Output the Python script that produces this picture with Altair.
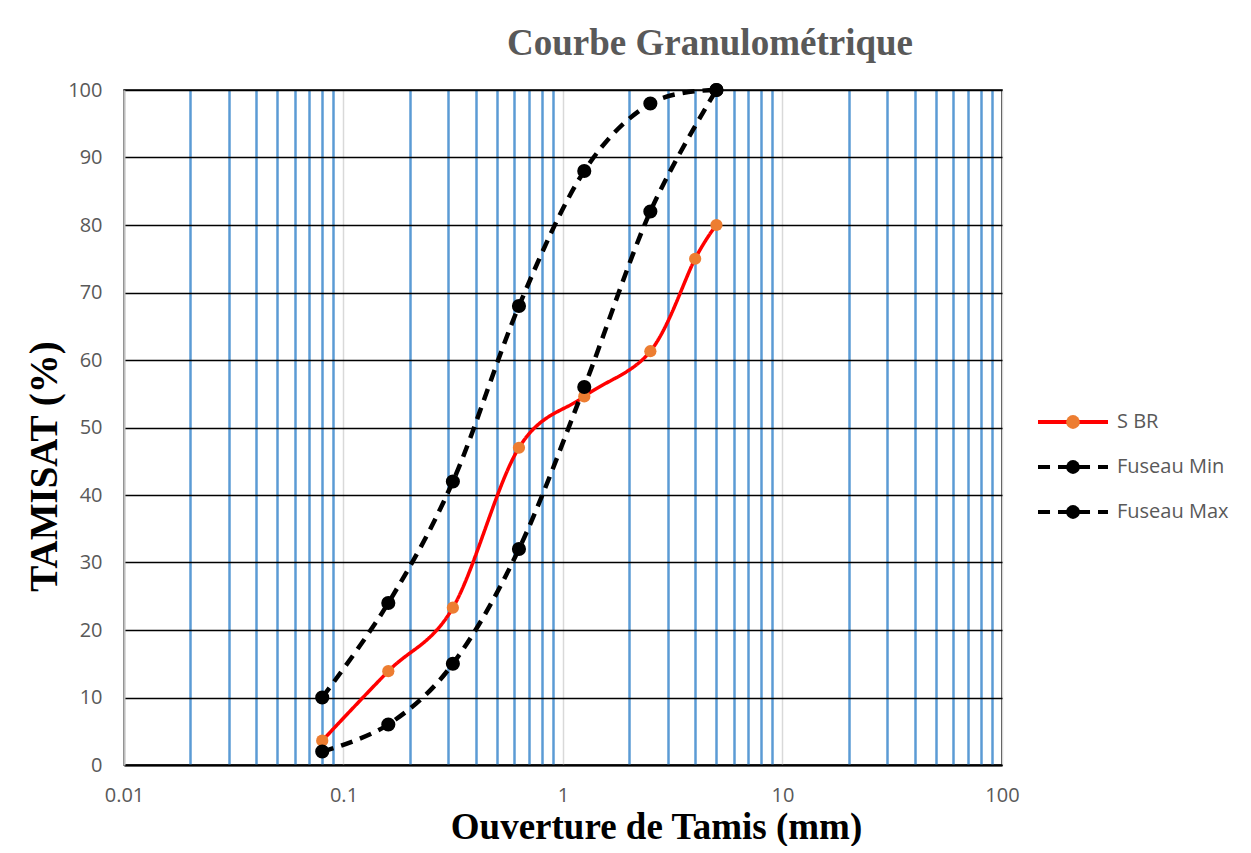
import altair as alt
import pandas as pd

# ---- data ----
series_names = ["S BR", "Fuseau Min", "Fuseau Max"]
point_keys = ["S BR ", "Fuseau Min ", "Fuseau Max "]

sieve_sbr = [0.08, 0.16, 0.315, 0.63, 1.25, 2.5, 4, 5]
pass_sbr = [3.6, 13.9, 23.3, 47.0, 54.6, 61.3, 75.0, 80.0]

sieve_fuseau = [0.08, 0.16, 0.315, 0.63, 1.25, 2.5, 5]
pass_min = [2, 6, 15, 32, 56, 82, 100]
pass_max = [10, 24, 42, 68, 88, 98, 100]

x_major = [0.01, 0.1, 1, 10, 100]
x_ticks = [0.01, 0.02, 0.03, 0.04, 0.05, 0.06, 0.07, 0.08, 0.09,
           0.1, 0.2, 0.3, 0.4, 0.5, 0.6, 0.7, 0.8, 0.9,
           1, 2, 3, 4, 5, 6, 7, 8, 9,
           10, 20, 30, 40, 50, 60, 70, 80, 90, 100]
y_ticks = [0, 10, 20, 30, 40, 50, 60, 70, 80, 90, 100]

line_colors = ["#FF0000", "#000000", "#000000"]
line_dashes = [[1, 0], [12, 8], [12, 8]]
point_colors = ["#ED7D31", "#000000", "#000000"]

rows = []
for name, key, xs, ys in [
    (series_names[0], point_keys[0], sieve_sbr, pass_sbr),
    (series_names[1], point_keys[1], sieve_fuseau, pass_min),
    (series_names[2], point_keys[2], sieve_fuseau, pass_max),
]:
    for xv, yv in zip(xs, ys):
        rows.append({"series": name, "key": key, "sieve": xv, "pass": yv})
df = pd.DataFrame(rows)

major_js = "[" + ",".join(str(v) for v in x_major) + "]"
is_major = f"indexof({major_js}, datum.value) >= 0"
is_sbr = "datum.series == 'S BR'"

x_axis = alt.Axis(
    values=x_ticks,
    format=".2~f",
    labelExpr=f"{is_major} ? datum.label : ''",
    labelOverlap=False,
    labelFlush=False,
    ticks=False,
    grid=True,
    gridColor={"condition": {"test": is_major, "value": "#D9D9D9"}, "value": "#5B9BD5"},
    gridWidth={"condition": {"test": is_major, "value": 1.5}, "value": 2.5},
    domainColor="black",
    domainWidth=2,
    labelFont="Open Sans",
    labelFontSize=20,
    labelColor="#595959",
    labelPadding=20,
    title="Ouverture de Tamis (mm)",
    titleFont="Liberation Serif",
    titleFontSize=37,
    titleFontWeight="bold",
    titleColor="black",
    titleAlign="center",
    titleBaseline="alphabetic",
    titleX=532,
    titleY=73,
)

y_axis = alt.Axis(
    values=y_ticks,
    ticks=False,
    grid=True,
    gridColor="black",
    gridWidth=1.5,
    domainColor="#BFBFBF",
    domainWidth=2,
    labelFont="Open Sans",
    labelFontSize=20,
    labelColor="#595959",
    labelPadding=22,
    labelFlush=False,
    title="TAMISAT (%)",
    titleFont="Liberation Serif",
    titleFontSize=39,
    titleFontWeight="bold",
    titleColor="black",
    titleAngle=270,
    titleAlign="center",
    titleBaseline="middle",
    titleX=-80,
    titleY=376,
)

leg_common = dict(
    title=None,
    orient="none",
    legendX=939,
    legendY=322,
    padding=0,
    rowPadding=25,
    labelFont="Open Sans",
    labelFontSize=20,
    labelColor="#595959",
    labelOffset=34,
)
line_legend = alt.Legend(symbolType="M-6,0L6,0", symbolSize=136,
                         symbolStrokeWidth=4, zindex=0, **leg_common)
point_legend = alt.Legend(symbolType="circle", symbolSize=190,
                          symbolStrokeWidth=0, labelOpacity=0, zindex=1,
                          **leg_common)

x_enc = alt.X("sieve:Q", scale=alt.Scale(type="log", domain=[0.01, 100], nice=False),
              axis=x_axis)
y_enc = alt.Y("pass:Q", scale=alt.Scale(domain=[0, 100], nice=False), axis=y_axis)

lines = alt.Chart(df).mark_line(interpolate="cardinal").encode(
    x=x_enc,
    y=y_enc,
    stroke=alt.Stroke("series:N", scale=alt.Scale(domain=series_names, range=line_colors),
                      legend=line_legend),
    strokeDash=alt.StrokeDash("series:N", scale=alt.Scale(domain=series_names, range=line_dashes),
                              legend=line_legend),
    strokeWidth=alt.condition(is_sbr, alt.value(3.5), alt.value(4.5)),
)

points = alt.Chart(df).mark_point(filled=True, shape="circle", opacity=1).encode(
    x=alt.X("sieve:Q"),
    y=alt.Y("pass:Q"),
    fill=alt.Fill("key:N", scale=alt.Scale(domain=point_keys, range=point_colors),
                  legend=point_legend),
    size=alt.condition(is_sbr, alt.value(150), alt.value(200)),
)

chart = alt.layer(lines, points).properties(
    width=878,
    height=675,
    title=alt.TitleParams(
        "Courbe Granulométrique",
        font="Liberation Serif",
        fontSize=37,
        fontWeight="bold",
        color="#595959",
        anchor="middle",
        dx=147,
        offset=17,
    ),
    padding={"left": 116, "top": 82, "right": 235, "bottom": 81},
    autosize=alt.AutoSizeParams(type="none"),
).configure_view(stroke="black", strokeWidth=1.5)

chart.save("out.html", embed_options={"renderer": "svg", "actions": False})
